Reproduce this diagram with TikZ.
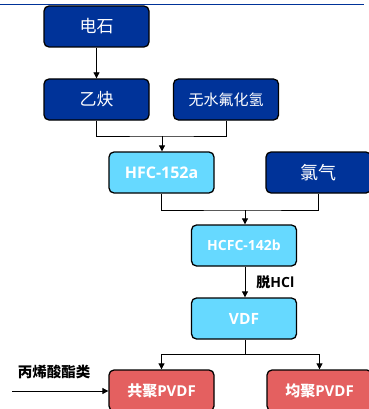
\documentclass[tikz,border=0pt]{standalone}
\usepackage{fontspec}
\setmainfont{Open Sans}
\newfontfamily\cjk{Noto Sans CJK SC}
\usetikzlibrary{arrows.meta}
\definecolor{dblue}{HTML}{003399}
\definecolor{lblue}{HTML}{66D9FF}
\definecolor{pred}{HTML}{E46060}
\tikzset{
  basebox/.style={draw=black, line width=1.3pt, rounded corners=5pt, minimum width=105pt, minimum height=41pt, inner sep=0pt, text=white, font=\bfseries},
  dbox/.style={basebox, fill=dblue},
  lbox/.style={basebox, fill=lblue},
  rbox/.style={basebox, fill=pred},
  conn/.style={draw=black, line width=0.8pt},
  arr/.style={conn, -{Triangle[length=6pt,width=6pt]}}
}
\begin{document}
\begin{tikzpicture}[x=1pt,y=-1pt]
\useasboundingbox (0,0) rectangle (368,409);
\draw[dblue, line width=1.8pt] (0,4.5) -- (364,4.5);
\node[dbox, font=\cjk\fontsize{17}{17}\selectfont] (ds) at (96.5,26.5) {电石};
\node[dbox, font=\cjk\fontsize{17}{17}\selectfont] (yq) at (96.5,99.5) {乙炔};
\node[dbox, font=\cjk\fontsize{15}{15}\selectfont] (hf) at (226,99.5) {无水氟化氢};
\node[lbox, font=\bfseries\fontsize{16}{16}\selectfont] (hfc) at (161.5,172.5) {HFC-152a};
\node[dbox, font=\cjk\fontsize{18}{18}\selectfont] (cl) at (318.5,172.5) {氯气};
\node[lbox, font=\bfseries\fontsize{14}{14}\selectfont] (hcfc) at (244,245.5) {HCFC-142b};
\node[lbox, font=\bfseries\fontsize{15.5}{15.5}\selectfont] (vdf) at (244,318.5) {VDF};
\node[rbox, font=\bfseries\fontsize{15}{15}\selectfont] (co) at (161.5,390.5) {{\cjk 共聚}PVDF};
\node[rbox, font=\bfseries\fontsize{15}{15}\selectfont] (ho) at (319.5,390.5) {{\cjk 均聚}PVDF};
\coordinate (j1) at (162,136);
\coordinate (j2) at (245,210);
\coordinate (j3) at (245,354);
\coordinate (src) at (12,391);
\draw[arr] (ds.south) -- (yq.north);
\draw[conn] (yq.south) |- (j1) -| (hf.south);
\draw[arr] (j1) -- (j1 |- hfc.north);
\draw[conn] (hfc.south) |- (j2) -| (cl.south);
\draw[arr] (j2) -- (j2 |- hcfc.north);
\draw[arr] (j2 |- hcfc.south) -- (j2 |- vdf.north) node[pos=0.5, right=11pt, font=\bfseries\fontsize{14}{14}\selectfont, inner sep=0pt] (tl) {{\cjk 脱}HCl};
\draw[conn] (j2 |- vdf.south) -- (j3);
\draw[arr] (j3) -| (co.north);
\draw[arr] (j3) -| (ho.north);
\node[font=\cjk\bfseries\fontsize{14.5}{14.5}\selectfont, inner sep=0pt] (lbl) at (54,372) {丙烯酸酯类};
\draw[arr] (src) -- (src -| co.west);
\end{tikzpicture}
\end{document}
